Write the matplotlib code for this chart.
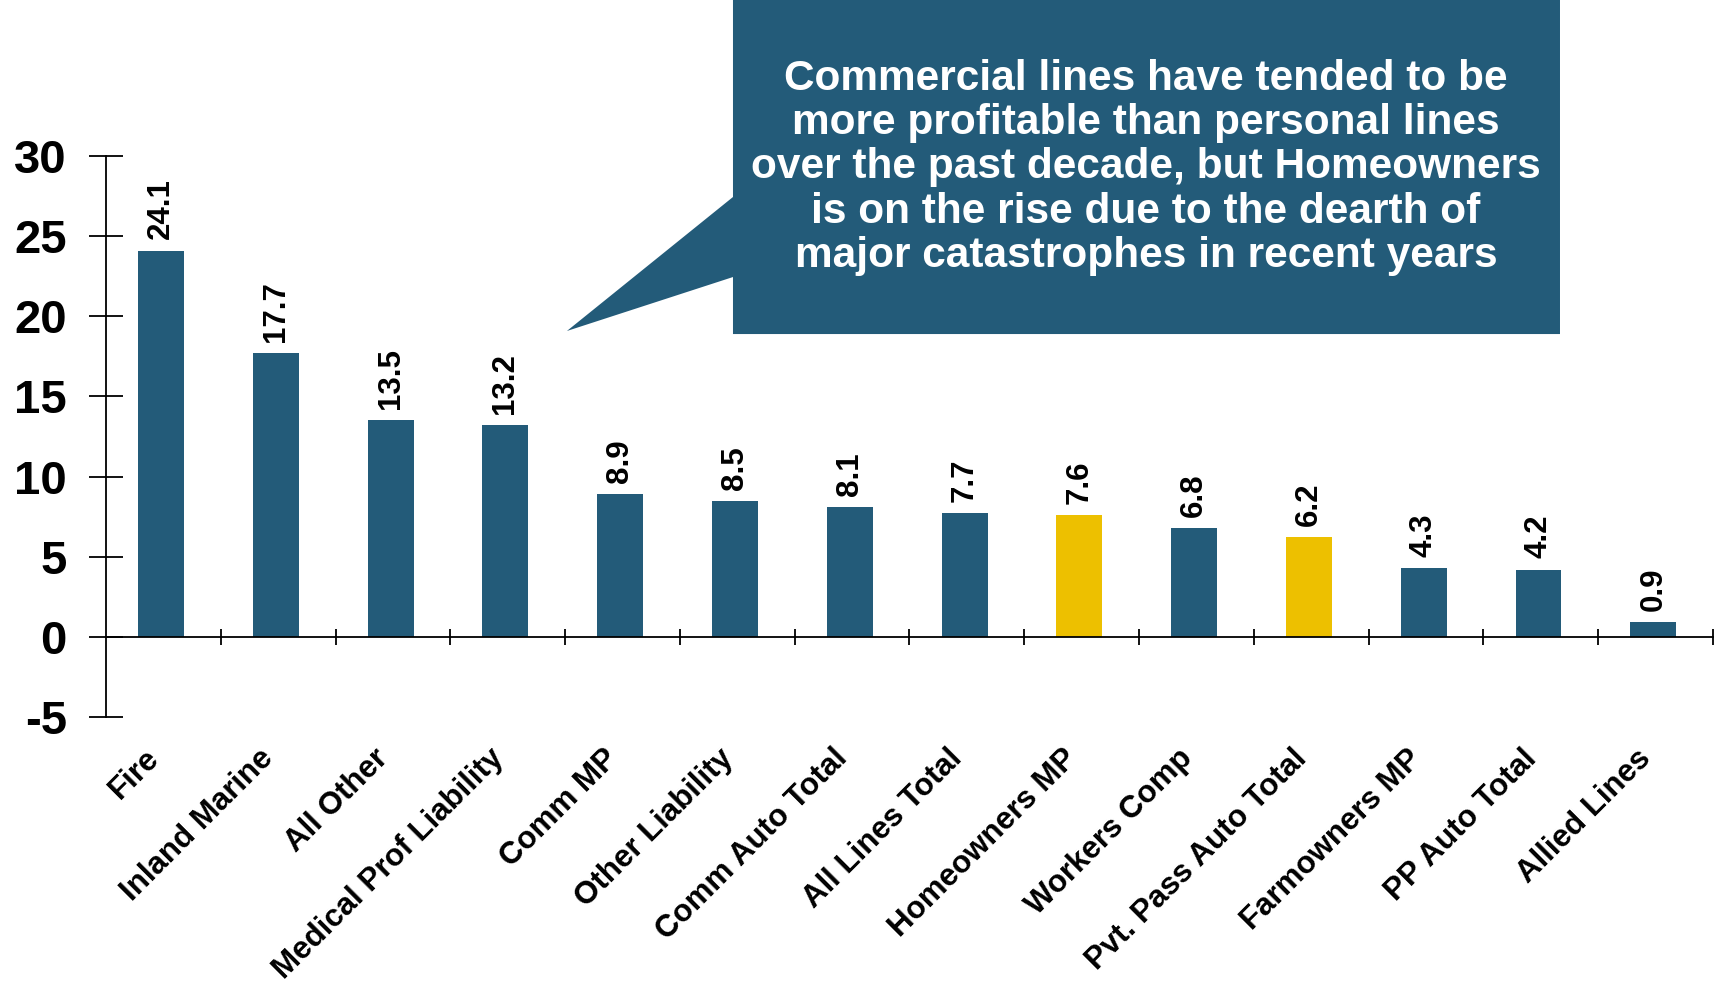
import matplotlib
matplotlib.use("Agg")
import matplotlib.pyplot as plt
from matplotlib.patches import Polygon

plt.rcParams['font.family'] = ['Liberation Sans', 'DejaVu Sans']
plt.rcParams['font.weight'] = 'bold'

# Average return on net worth by line, 10-year view (%)
categories = ["Fire", "Inland Marine", "All Other", "Medical Prof Liability",
              "Comm MP", "Other Liability", "Comm Auto Total", "All Lines Total",
              "Homeowners MP", "Workers Comp", "Pvt. Pass Auto Total",
              "Farmowners MP", "PP Auto Total", "Allied Lines"]
values = [24.1, 17.7, 13.5, 13.2, 8.9, 8.5, 8.1, 7.7, 7.6, 6.8, 6.2, 4.3, 4.2, 0.9]
highlighted = ["Homeowners MP", "Pvt. Pass Auto Total"]
yticks = [-5, 0, 5, 10, 15, 20, 25, 30]
callout = ("Commercial lines have tended to be\n"
           "more profitable than personal lines\n"
           "over the past decade, but Homeowners\n"
           "is on the rise due to the dearth of\n"
           "major catastrophes in recent years")

BLUE = "#235B79"
GOLD = "#EDC000"

fig = plt.figure(figsize=(17.19, 9.88), dpi=100)
ax = fig.add_axes([0.06166, 0.27429, 0.93485, 0.56781])

x = list(range(len(categories)))
colors = [GOLD if c in highlighted else BLUE for c in categories]
bars = ax.bar([xi - 0.02 for xi in x], values, width=0.4, color=colors, zorder=2)

for xi, v in zip(x, values):
    ax.annotate(f"{v:.1f}", (xi - 0.02, v), xytext=(0, 8), textcoords="offset points",
                rotation=90, ha="center", va="bottom", fontsize=22.5,
                fontweight="bold", color="black")

ax.set_xlim(-0.5, len(categories) - 0.5)
ax.set_ylim(-5, 30)
ax.set_yticks(yticks)
ax.set_yticklabels([str(t) for t in yticks])

ax.spines['top'].set_visible(False)
ax.spines['right'].set_visible(False)
ax.spines['bottom'].set_position(('data', 0))
ax.spines['left'].set_linewidth(1.3)
ax.spines['bottom'].set_linewidth(1.3)

ax.set_xticks([i + 0.5 for i in range(len(categories))])
ax.set_xticklabels([])
ax.tick_params(axis='x', direction='inout', length=12, width=1.3)
ax.tick_params(axis='y', direction='inout', length=24.5, width=1.3,
               labelsize=34, pad=16)
for lab in ax.get_yticklabels():
    lab.set_fontweight('bold')

for xi, name in zip(x, categories):
    ax.text(xi - 0.17, -6.65, name, rotation=45, rotation_mode='anchor',
            ha='right', va='top', fontsize=22.5, fontweight='bold',
            clip_on=False)

# speech-bubble callout
bubble = Polygon([(0.4264, 1.0), (0.9075, 1.0), (0.9075, 0.6619),
                  (0.4264, 0.6619), (0.4264, 0.7196), (0.3298, 0.6650),
                  (0.4264, 0.8006)], closed=True, transform=fig.transFigure,
                 facecolor=BLUE, edgecolor='none', zorder=5)
fig.patches.append(bubble)
fig.text(0.6667, 0.8305, callout, ha='center', va='center',
         multialignment='center', color='white', fontsize=30.5,
         fontweight='bold', linespacing=1.14, zorder=6)

fig.savefig("out.png", dpi=100)
